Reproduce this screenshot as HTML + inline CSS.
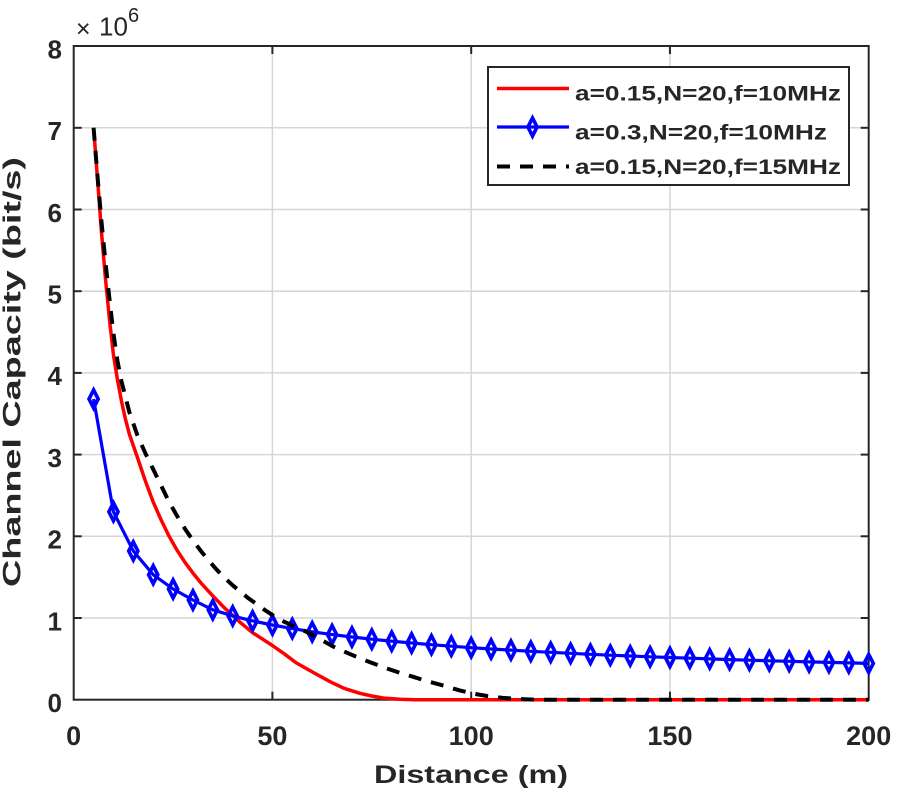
<!DOCTYPE html>
<html>
<head>
<meta charset="utf-8">
<style>
  html,body{margin:0;padding:0;background:#fff;}
  svg{display:block;}
  text{font-family:"Liberation Sans",Arial,sans-serif;fill:#262626;}
</style>
</head>
<body>
<svg width="900" height="800" viewBox="0 0 900 800" xmlns="http://www.w3.org/2000/svg">
  <defs>
    <path id="dm" d="M0,-9 L4.6,0 L0,9 L-4.6,0 Z" fill="none" stroke="#0000ff" stroke-width="3.6"/>
  </defs>
  <rect x="0" y="0" width="900" height="800" fill="#fff"/>

  <!-- grid -->
  <g stroke="#d6d6d6" stroke-width="1.5">
    <line x1="272.4" y1="46" x2="272.4" y2="700"/>
    <line x1="471.2" y1="46" x2="471.2" y2="700"/>
    <line x1="669.95" y1="46" x2="669.95" y2="700"/>
    <line x1="74" y1="618" x2="868.7" y2="618"/>
    <line x1="74" y1="536.3" x2="868.7" y2="536.3"/>
    <line x1="74" y1="454.6" x2="868.7" y2="454.6"/>
    <line x1="74" y1="372.9" x2="868.7" y2="372.9"/>
    <line x1="74" y1="291.2" x2="868.7" y2="291.2"/>
    <line x1="74" y1="209.5" x2="868.7" y2="209.5"/>
    <line x1="74" y1="127.8" x2="868.7" y2="127.8"/>
  </g>

  <!-- axes box and ticks -->
  <g stroke="#262626" stroke-width="2" fill="none">
    <rect x="73.7" y="46" width="795" height="653.7"/>
    <line x1="272.4" y1="699.7" x2="272.4" y2="691.7"/>
    <line x1="471.2" y1="699.7" x2="471.2" y2="691.7"/>
    <line x1="669.95" y1="699.7" x2="669.95" y2="691.7"/>
    <line x1="272.4" y1="46" x2="272.4" y2="54"/>
    <line x1="471.2" y1="46" x2="471.2" y2="54"/>
    <line x1="669.95" y1="46" x2="669.95" y2="54"/>
    <line x1="73.7" y1="618" x2="81.7" y2="618"/>
    <line x1="73.7" y1="536.3" x2="81.7" y2="536.3"/>
    <line x1="73.7" y1="454.6" x2="81.7" y2="454.6"/>
    <line x1="73.7" y1="372.9" x2="81.7" y2="372.9"/>
    <line x1="73.7" y1="291.2" x2="81.7" y2="291.2"/>
    <line x1="73.7" y1="209.5" x2="81.7" y2="209.5"/>
    <line x1="73.7" y1="127.8" x2="81.7" y2="127.8"/>
    <line x1="868.7" y1="618" x2="860.7" y2="618"/>
    <line x1="868.7" y1="536.3" x2="860.7" y2="536.3"/>
    <line x1="868.7" y1="454.6" x2="860.7" y2="454.6"/>
    <line x1="868.7" y1="372.9" x2="860.7" y2="372.9"/>
    <line x1="868.7" y1="291.2" x2="860.7" y2="291.2"/>
    <line x1="868.7" y1="209.5" x2="860.7" y2="209.5"/>
    <line x1="868.7" y1="127.8" x2="860.7" y2="127.8"/>
  </g>

  <!-- red curve -->
  <polyline fill="none" stroke="#ff0000" stroke-width="3.5" stroke-linejoin="round"
    points="93.6,127.8 97.55,179.3 101.5,232.4 105.5,278.9 109.5,319.8 113.45,354.9 117.4,379.4 121.4,400.7 125.35,418.7 129.35,434.2 137.3,457.1 145.25,480.7 153.2,502.0 161.15,520.0 169.1,536.3 177.05,550.2 185.0,562.4 192.95,573.1 200.9,582.9 212.8,595.9 224.75,608.2 239.9,622.1 252.6,632.7 271.65,645.0 284.4,653.95 296.3,662.9 312.2,671.9 330.1,681.7 344.0,688.3 359.9,693.3 371.8,696.0 383.75,698.1 399.65,699.3 415.55,699.7 868.7,699.7"/>

  <!-- blue curve -->
  <polyline fill="none" stroke="#0000ff" stroke-width="3.2" stroke-linejoin="round"
    points="93.6,399.0 113.45,511.8 133.3,551.0 153.2,574.7 173.1,589.0 192.95,600.0 212.8,609.8 232.7,615.9 252.6,620.9 272.45,625.0 292.3,628.6 312.2,631.8 332.1,634.6 351.95,637.0 371.8,639.2 391.7,641.2 411.6,643.0 431.45,644.7 451.3,646.2 471.2,647.7 491.1,649.0 510.95,650.1 530.8,651.3 550.7,652.3 570.6,653.3 590.45,654.3 610.3,655.2 630.2,656.0 650.1,656.8 669.95,657.5 689.8,658.2 709.7,658.9 729.6,659.6 749.45,660.2 769.3,660.8 789.2,661.3 809.1,661.9 828.95,662.4 848.8,662.9 868.7,663.4"/>
  <g>
    <use href="#dm" x="93.6" y="399.0"/><use href="#dm" x="113.45" y="511.8"/><use href="#dm" x="133.3" y="551.0"/><use href="#dm" x="153.2" y="574.7"/>
    <use href="#dm" x="173.1" y="589.0"/><use href="#dm" x="192.95" y="600.0"/><use href="#dm" x="212.8" y="609.8"/><use href="#dm" x="232.7" y="615.9"/>
    <use href="#dm" x="252.6" y="620.9"/><use href="#dm" x="272.45" y="625.0"/><use href="#dm" x="292.3" y="628.6"/><use href="#dm" x="312.2" y="631.8"/>
    <use href="#dm" x="332.1" y="634.6"/><use href="#dm" x="351.95" y="637.0"/><use href="#dm" x="371.8" y="639.2"/><use href="#dm" x="391.7" y="641.2"/>
    <use href="#dm" x="411.6" y="643.0"/><use href="#dm" x="431.45" y="644.7"/><use href="#dm" x="451.3" y="646.2"/><use href="#dm" x="471.2" y="647.7"/>
    <use href="#dm" x="491.1" y="649.0"/><use href="#dm" x="510.95" y="650.1"/><use href="#dm" x="530.8" y="651.3"/><use href="#dm" x="550.7" y="652.3"/>
    <use href="#dm" x="570.6" y="653.3"/><use href="#dm" x="590.45" y="654.3"/><use href="#dm" x="610.3" y="655.2"/><use href="#dm" x="630.2" y="656.0"/>
    <use href="#dm" x="650.1" y="656.8"/><use href="#dm" x="669.95" y="657.5"/><use href="#dm" x="689.8" y="658.2"/><use href="#dm" x="709.7" y="658.9"/>
    <use href="#dm" x="729.6" y="659.6"/><use href="#dm" x="749.45" y="660.2"/><use href="#dm" x="769.3" y="660.8"/><use href="#dm" x="789.2" y="661.3"/>
    <use href="#dm" x="809.1" y="661.9"/><use href="#dm" x="828.95" y="662.4"/><use href="#dm" x="848.8" y="662.9"/><use href="#dm" x="868.7" y="663.4"/>
  </g>

  <!-- black dashed curve -->
  <polyline fill="none" stroke="#000" stroke-width="4" stroke-dasharray="13 10" stroke-linejoin="round"
    points="93.6,127.8 97.55,176.8 101.5,221.8 105.5,262.6 109.5,299.4 113.45,333.7 117.4,360.6 121.4,381.1 129.35,412.1 137.3,435.0 145.25,453.0 153.2,469.3 161.15,485.6 169.1,502.0 177.05,515.9 185.0,528.9 192.95,540.4 200.9,551.0 208.85,560.8 216.8,569.8 224.75,578.0 232.7,585.3 240.65,591.9 248.6,598.4 256.55,604.1 264.5,609.8 272.45,615.1 280.4,620.0 292.3,625.4 306.6,631.9 320.15,639.2 333.3,646.6 346.0,652.3 359.9,658.3 371.8,662.9 386.5,668.3 399.65,672.7 413.2,676.8 427.5,681.3 445.0,686.0 459.3,690.3 473.2,693.6 487.1,696.0 503.0,697.9 518.9,699.0 534.8,699.7 868.7,699.7"/>

  <!-- tick labels -->
  <g font-size="26" font-weight="bold" text-anchor="end">
    <text x="62" y="58.3">8</text>
    <text x="62" y="140.1">7</text>
    <text x="62" y="221.8">6</text>
    <text x="62" y="303.5">5</text>
    <text x="62" y="385.2">4</text>
    <text x="62" y="466.9">3</text>
    <text x="62" y="548.6">2</text>
    <text x="62" y="630.3">1</text>
    <text x="62" y="712">0</text>
  </g>
  <g font-size="27" font-weight="bold" text-anchor="middle">
    <text x="73.7" y="745">0</text>
    <text x="272.4" y="745">50</text>
    <text x="471.2" y="745">100</text>
    <text x="669.95" y="745">150</text>
    <text x="868.7" y="745">200</text>
  </g>

  <!-- exponent -->
  <text x="76" y="37" font-size="25">×</text>
  <text x="99" y="35.5" font-size="26">10</text>
  <text x="128" y="22" font-size="20">6</text>

  <!-- axis labels -->
  <text x="471" y="783" font-size="25" font-weight="bold" text-anchor="middle" textLength="194" lengthAdjust="spacingAndGlyphs">Distance (m)</text>
  <text transform="translate(20.5,372) rotate(-90)" font-size="25" font-weight="bold" text-anchor="middle" textLength="430" lengthAdjust="spacingAndGlyphs">Channel Capacity (bit/s)</text>

  <!-- legend -->
  <rect x="488" y="67" width="361" height="118" fill="#fff" stroke="#262626" stroke-width="2"/>
  <line x1="497" y1="88.5" x2="569" y2="88.5" stroke="#ff0000" stroke-width="3.5"/>
  <line x1="497" y1="127" x2="569" y2="127" stroke="#0000ff" stroke-width="3.2"/>
  <use href="#dm" x="532.5" y="127"/>
  <line x1="497" y1="166.5" x2="569" y2="166.5" stroke="#000" stroke-width="4" stroke-dasharray="13 10"/>
  <g font-size="21" font-weight="bold">
    <text x="575" y="100.7" textLength="266" lengthAdjust="spacingAndGlyphs">a=0.15,N=20,f=10MHz</text>
    <text x="575" y="139.3" textLength="252" lengthAdjust="spacingAndGlyphs">a=0.3,N=20,f=10MHz</text>
    <text x="575" y="174" textLength="266" lengthAdjust="spacingAndGlyphs">a=0.15,N=20,f=15MHz</text>
  </g>
</svg>
</body>
</html>
